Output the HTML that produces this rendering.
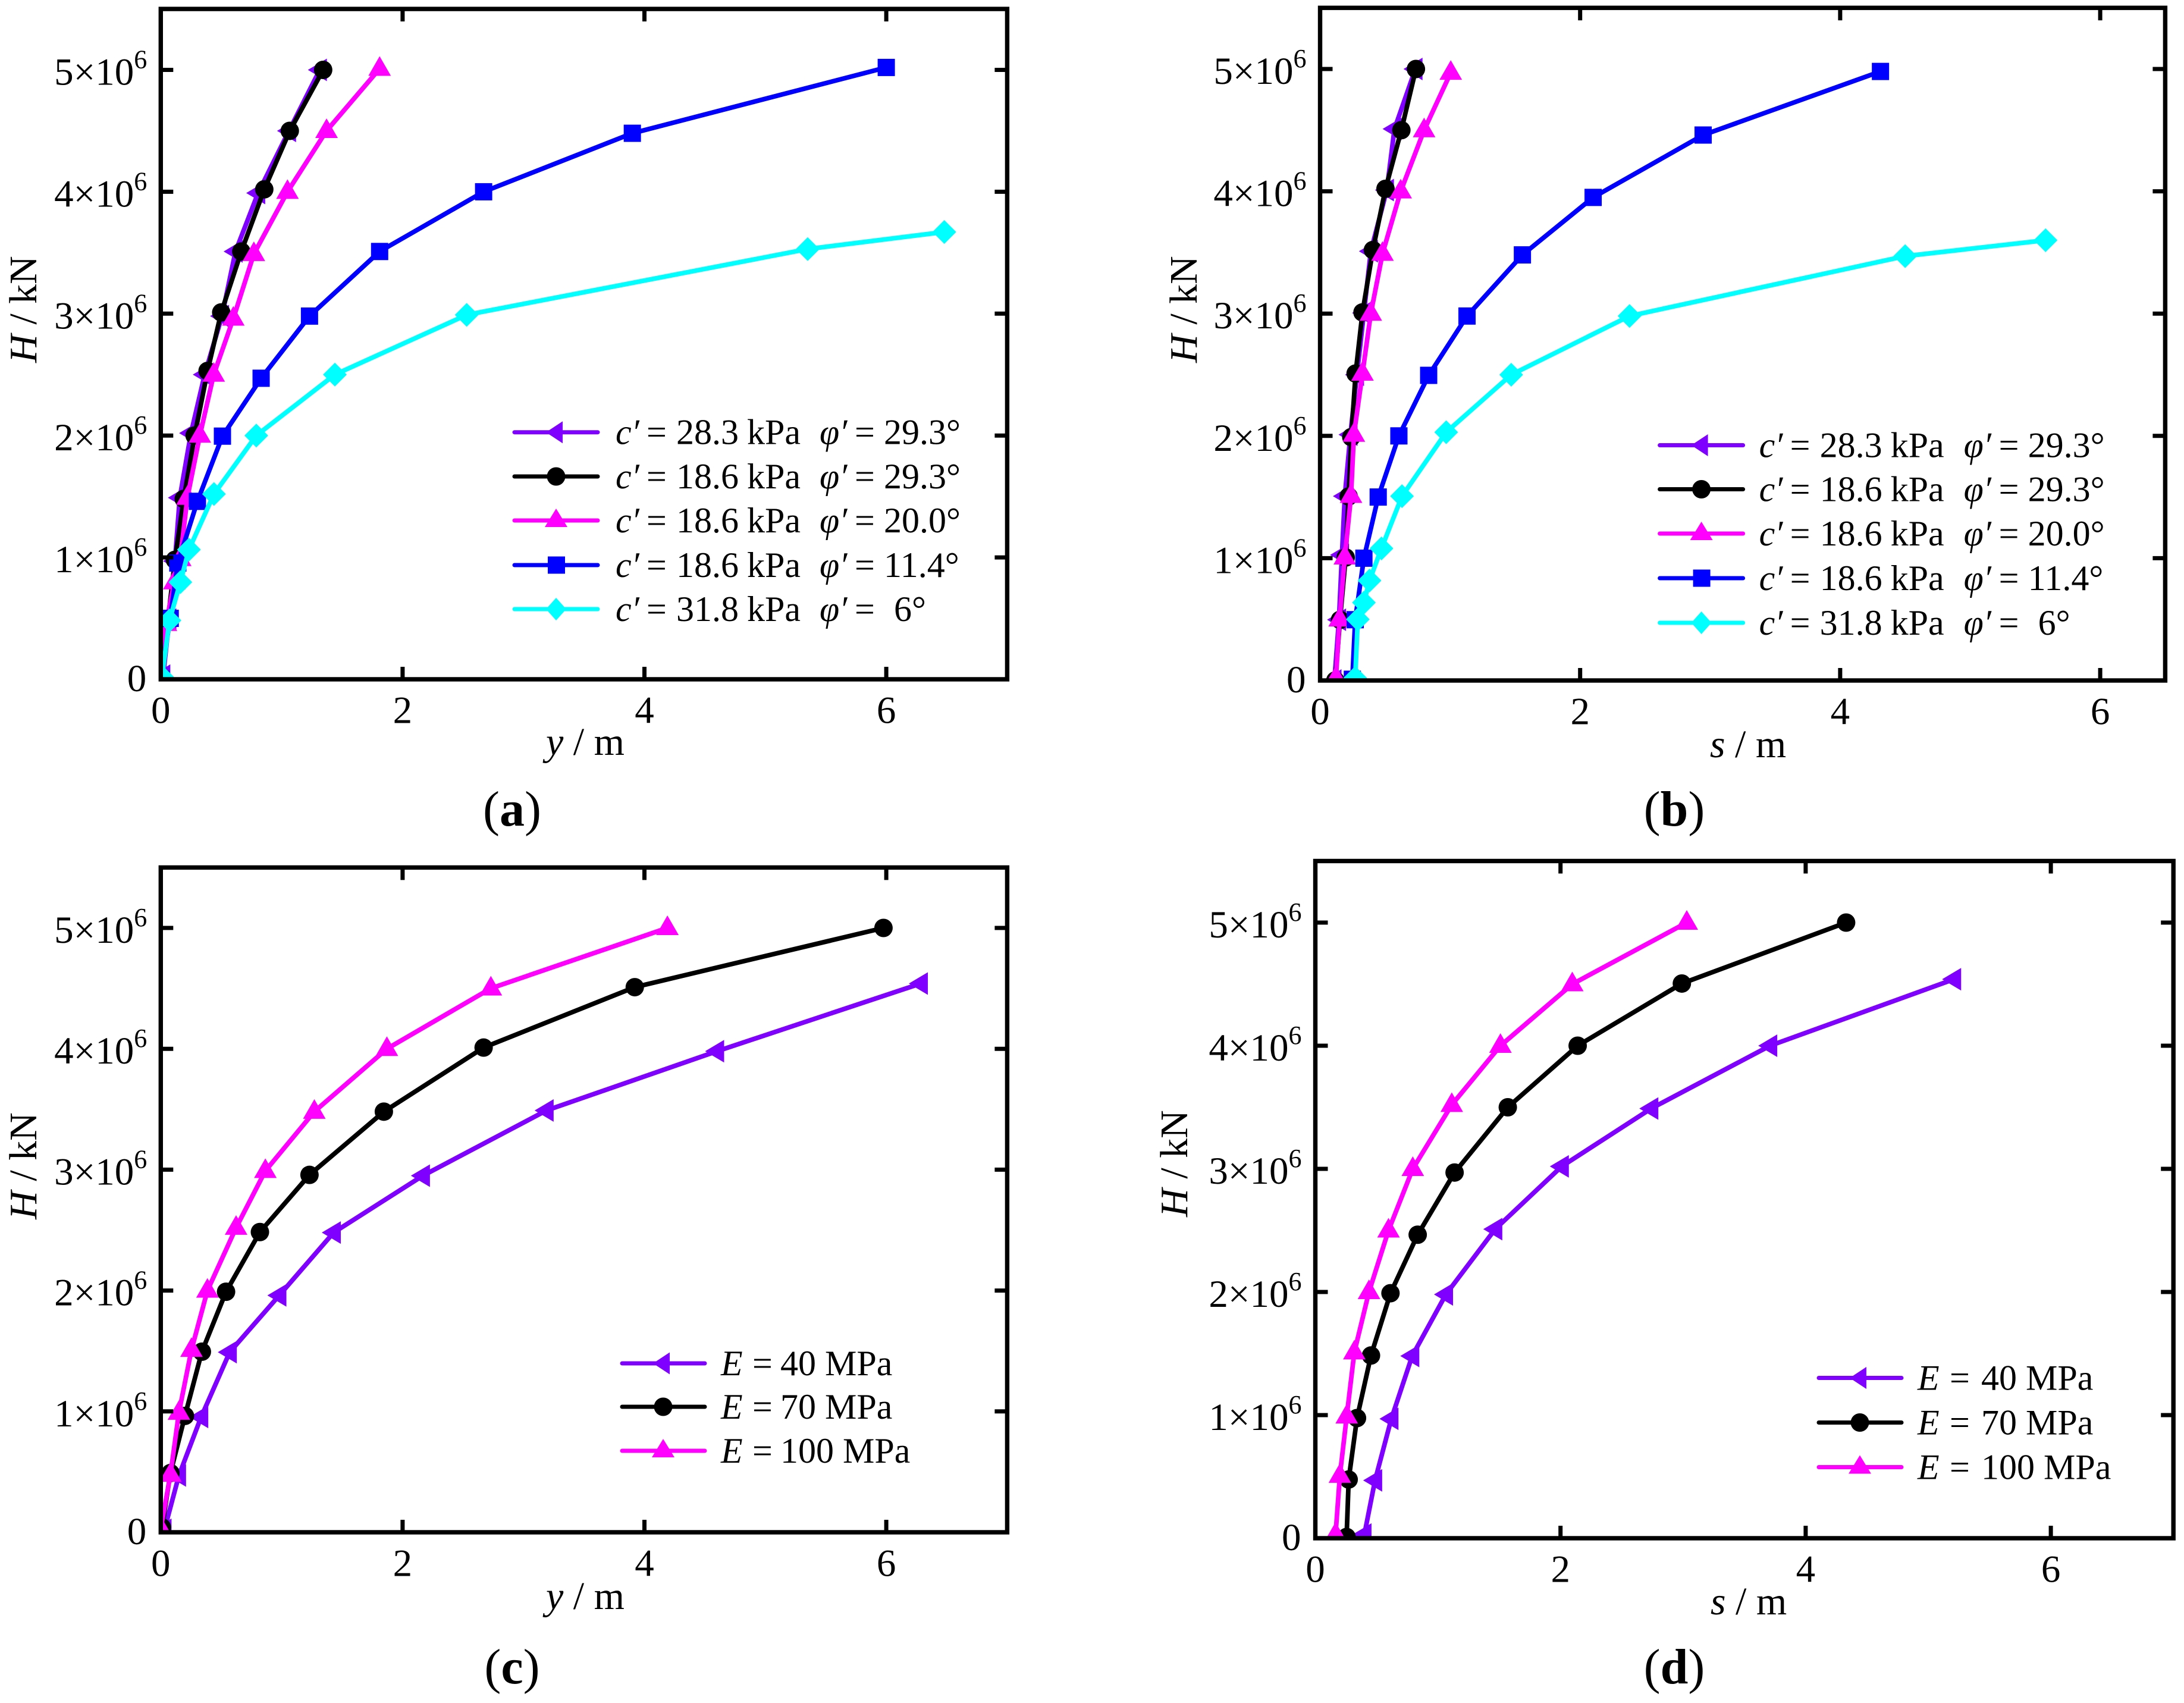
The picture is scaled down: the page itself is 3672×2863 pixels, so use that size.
<!DOCTYPE html>
<html lang="en">
<head>
<meta charset="utf-8">
<title>H versus displacement curves</title>
<style>
html,body{margin:0;padding:0;background:#fff}
svg{display:block}
text{font-family:"Liberation Serif",serif;fill:#000}
.lg{font-size:60px}
.al{font-size:66px}
.cap{font-size:84px}
.i{font-style:italic}
.b{font-weight:bold}
.ll{stroke-width:7;stroke-linecap:round;fill:none}
</style>
</head>
<body>
<svg id="fig" xmlns="http://www.w3.org/2000/svg" width="3672" height="2863" viewBox="0 0 3672 2863">
  <rect width="3672" height="2863" fill="#fff"/>

  <!-- axis titles -->
  <text class="al" x="984" y="1269" text-anchor="middle"><tspan class="i">y</tspan> / m</text>
  <text class="al" transform="translate(61 520) rotate(-90)" text-anchor="middle"><tspan class="i">H</tspan> / kN</text>
  <text class="al" x="2939" y="1273" text-anchor="middle"><tspan class="i">s</tspan> / m</text>
  <text class="al" transform="translate(2012 520) rotate(-90)" text-anchor="middle"><tspan class="i">H</tspan> / kN</text>
  <text class="al" x="984" y="2705" text-anchor="middle"><tspan class="i">y</tspan> / m</text>
  <text class="al" transform="translate(61 1960) rotate(-90)" text-anchor="middle"><tspan class="i">H</tspan> / kN</text>
  <text class="al" x="2940" y="2714" text-anchor="middle"><tspan class="i">s</tspan> / m</text>
  <text class="al" transform="translate(1996 1956) rotate(-90)" text-anchor="middle"><tspan class="i">H</tspan> / kN</text>

  <!-- captions -->
  <text class="cap" x="861" y="1388" text-anchor="middle">(<tspan class="b">a</tspan>)</text>
  <text class="cap" x="2815" y="1388" text-anchor="middle">(<tspan class="b">b</tspan>)</text>
  <text class="cap" x="861" y="2830" text-anchor="middle">(<tspan class="b">c</tspan>)</text>
  <text class="cap" x="2815" y="2830" text-anchor="middle">(<tspan class="b">d</tspan>)</text>

  <g id="plots"></g>

  <!-- legend panel a -->
  <g>
    <g transform="translate(0 726.7)">
      <line class="ll" x1="865" x2="1005" stroke="#7f00ff"/><polygon points="918,0 946,-18.5 946,18.5" fill="#7f00ff"/>
      <text class="lg" y="20"><tspan class="i" x="1035">c′</tspan><tspan x="1087">=</tspan><tspan x="1137">28.3</tspan><tspan x="1256">kPa</tspan><tspan class="i" x="1378">φ′</tspan><tspan x="1437">=</tspan><tspan x="1486">29.3°</tspan></text>
    </g>
    <g transform="translate(0 801)">
      <line class="ll" x1="865" x2="1005" stroke="#000"/><circle cx="935" cy="0" r="15.5" fill="#000"/>
      <text class="lg" y="20"><tspan class="i" x="1035">c′</tspan><tspan x="1087">=</tspan><tspan x="1137">18.6</tspan><tspan x="1256">kPa</tspan><tspan class="i" x="1378">φ′</tspan><tspan x="1437">=</tspan><tspan x="1486">29.3°</tspan></text>
    </g>
    <g transform="translate(0 875)">
      <line class="ll" x1="865" x2="1005" stroke="#f0f"/><polygon points="935,-20 954,11 916,11" fill="#f0f"/>
      <text class="lg" y="20"><tspan class="i" x="1035">c′</tspan><tspan x="1087">=</tspan><tspan x="1137">18.6</tspan><tspan x="1256">kPa</tspan><tspan class="i" x="1378">φ′</tspan><tspan x="1437">=</tspan><tspan x="1486">20.0°</tspan></text>
    </g>
    <g transform="translate(0 950)">
      <line class="ll" x1="865" x2="1005" stroke="#00f"/><rect x="921" y="-14.5" width="29" height="29" fill="#00f"/>
      <text class="lg" y="20"><tspan class="i" x="1035">c′</tspan><tspan x="1087">=</tspan><tspan x="1137">18.6</tspan><tspan x="1256">kPa</tspan><tspan class="i" x="1378">φ′</tspan><tspan x="1437">=</tspan><tspan x="1486">11.4°</tspan></text>
    </g>
    <g transform="translate(0 1024)">
      <line class="ll" x1="865" x2="1005" stroke="#0ff"/><polygon points="935,-19 952,0 935,19 918,0" fill="#0ff"/>
      <text class="lg" y="20"><tspan class="i" x="1035">c′</tspan><tspan x="1087">=</tspan><tspan x="1137">31.8</tspan><tspan x="1256">kPa</tspan><tspan class="i" x="1378">φ′</tspan><tspan x="1437">=</tspan><tspan x="1503">6°</tspan></text>
    </g>
  </g>

  <!-- legend panel b -->
  <g transform="translate(1925.6 0)">
    <g transform="translate(0 748.5)">
      <line class="ll" x1="865" x2="1005" stroke="#7f00ff"/><polygon points="918,0 946,-18.5 946,18.5" fill="#7f00ff"/>
      <text class="lg" y="20"><tspan class="i" x="1032">c′</tspan><tspan x="1084">=</tspan><tspan x="1134">28.3</tspan><tspan x="1253">kPa</tspan><tspan class="i" x="1376">φ′</tspan><tspan x="1435">=</tspan><tspan x="1484">29.3°</tspan></text>
    </g>
    <g transform="translate(0 822.5)">
      <line class="ll" x1="865" x2="1005" stroke="#000"/><circle cx="935" cy="0" r="15.5" fill="#000"/>
      <text class="lg" y="20"><tspan class="i" x="1032">c′</tspan><tspan x="1084">=</tspan><tspan x="1134">18.6</tspan><tspan x="1253">kPa</tspan><tspan class="i" x="1376">φ′</tspan><tspan x="1435">=</tspan><tspan x="1484">29.3°</tspan></text>
    </g>
    <g transform="translate(0 897)">
      <line class="ll" x1="865" x2="1005" stroke="#f0f"/><polygon points="935,-20 954,11 916,11" fill="#f0f"/>
      <text class="lg" y="20"><tspan class="i" x="1032">c′</tspan><tspan x="1084">=</tspan><tspan x="1134">18.6</tspan><tspan x="1253">kPa</tspan><tspan class="i" x="1376">φ′</tspan><tspan x="1435">=</tspan><tspan x="1484">20.0°</tspan></text>
    </g>
    <g transform="translate(0 972)">
      <line class="ll" x1="865" x2="1005" stroke="#00f"/><rect x="921" y="-14.5" width="29" height="29" fill="#00f"/>
      <text class="lg" y="20"><tspan class="i" x="1032">c′</tspan><tspan x="1084">=</tspan><tspan x="1134">18.6</tspan><tspan x="1253">kPa</tspan><tspan class="i" x="1376">φ′</tspan><tspan x="1435">=</tspan><tspan x="1484">11.4°</tspan></text>
    </g>
    <g transform="translate(0 1047)">
      <line class="ll" x1="865" x2="1005" stroke="#0ff"/><polygon points="935,-19 952,0 935,19 918,0" fill="#0ff"/>
      <text class="lg" y="20"><tspan class="i" x="1032">c′</tspan><tspan x="1084">=</tspan><tspan x="1134">31.8</tspan><tspan x="1253">kPa</tspan><tspan class="i" x="1376">φ′</tspan><tspan x="1435">=</tspan><tspan x="1501">6°</tspan></text>
    </g>
  </g>

  <!-- legend panel c -->
  <g>
    <g transform="translate(0 2292)">
      <line class="ll" x1="1046" x2="1185" stroke="#7f00ff"/><polygon points="1098,0 1126,-18.5 1126,18.5" fill="#7f00ff"/>
      <text class="lg" y="20"><tspan class="i" x="1212">E</tspan><tspan x="1265">=</tspan><tspan x="1312">40 MPa</tspan></text>
    </g>
    <g transform="translate(0 2365)">
      <line class="ll" x1="1046" x2="1185" stroke="#000"/><circle cx="1115" cy="0" r="15.5" fill="#000"/>
      <text class="lg" y="20"><tspan class="i" x="1212">E</tspan><tspan x="1265">=</tspan><tspan x="1312">70 MPa</tspan></text>
    </g>
    <g transform="translate(0 2439)">
      <line class="ll" x1="1046" x2="1185" stroke="#f0f"/><polygon points="1115,-20 1134,11 1096,11" fill="#f0f"/>
      <text class="lg" y="20"><tspan class="i" x="1212">E</tspan><tspan x="1265">=</tspan><tspan x="1312">100 MPa</tspan></text>
    </g>
  </g>

  <!-- legend panel d -->
  <g transform="translate(2012 0)">
    <g transform="translate(0 2316.5)">
      <line class="ll" x1="1046" x2="1185" stroke="#7f00ff"/><polygon points="1098,0 1126,-18.5 1126,18.5" fill="#7f00ff"/>
      <text class="lg" y="20"><tspan class="i" x="1212">E</tspan><tspan x="1266">=</tspan><tspan x="1319">40 MPa</tspan></text>
    </g>
    <g transform="translate(0 2391.5)">
      <line class="ll" x1="1046" x2="1185" stroke="#000"/><circle cx="1115" cy="0" r="15.5" fill="#000"/>
      <text class="lg" y="20"><tspan class="i" x="1212">E</tspan><tspan x="1266">=</tspan><tspan x="1319">70 MPa</tspan></text>
    </g>
    <g transform="translate(0 2466.5)">
      <line class="ll" x1="1046" x2="1185" stroke="#f0f"/><polygon points="1115,-20 1134,11 1096,11" fill="#f0f"/>
      <text class="lg" y="20"><tspan class="i" x="1212">E</tspan><tspan x="1266">=</tspan><tspan x="1319">100 MPa</tspan></text>
    </g>
  </g>
</svg>

<script>
// tick values
const xTicks = [0, 2, 4, 6];
const hTicks = [0, 1, 2, 3, 4, 5]; // in units of 10^6 kN

// panel a: y (m) and H (10^6 kN)
const aPurpleX = [0.02, 0.07, 0.117, 0.157, 0.25, 0.363, 0.506, 0.618, 0.805, 1.06, 1.315];
const aPurpleH = [0.03, 0.49, 0.97, 1.49, 2.02, 2.5, 2.98, 3.51, 3.99, 4.5, 5.0];
const aBlackX = [0, 0.06, 0.117, 0.19, 0.28, 0.387, 0.5, 0.666, 0.856, 1.067, 1.343];
const aBlackH = [0, 0.49, 0.98, 1.48, 2.0, 2.53, 3.01, 3.51, 4.02, 4.5, 5.0];
const aMagentaX = [0, 0.043, 0.112, 0.161, 0.22, 0.323, 0.438, 0.6, 0.77, 1.048, 1.371, 1.81];
const aMagentaH = [0, 0.455, 0.797, 0.987, 1.49, 2.0, 2.5, 2.96, 3.49, 4.0, 4.5, 5.01];
const aBlueX = [0, 0.078, 0.141, 0.303, 0.51, 0.83, 1.23, 1.81, 2.67, 3.9, 6.0];
const aBlueH = [0, 0.5, 0.954, 1.46, 1.995, 2.47, 2.98, 3.51, 4.0, 4.48, 5.02];
const aCyanX = [0.01, 0.072, 0.162, 0.233, 0.44, 0.79, 1.44, 2.53, 5.35, 6.48];
const aCyanH = [0.02, 0.483, 0.797, 1.064, 1.52, 2.0, 2.5, 2.99, 3.53, 3.67];

// panel b: s (m) and H (10^6 kN)
const bPurpleX = [0.11, 0.145, 0.168, 0.19, 0.233, 0.283, 0.337, 0.39, 0.513, 0.572, 0.733];
const bPurpleH = [0, 0.497, 1.026, 1.507, 2.01, 2.5, 3.005, 3.51, 4.01, 4.51, 5.0];
const bBlackX = [0.117, 0.153, 0.197, 0.22, 0.24, 0.273, 0.326, 0.406, 0.503, 0.625, 0.737];
const bBlackH = [0, 0.496, 1.006, 1.505, 1.99, 2.51, 3.01, 3.52, 4.02, 4.5, 5.0];
const bMagentaX = [0.122, 0.15, 0.19, 0.238, 0.26, 0.326, 0.39, 0.48, 0.62, 0.8, 1.005];
const bMagentaH = [0.02, 0.5, 1.007, 1.51, 2.01, 2.51, 3.0, 3.49, 4.0, 4.5, 4.97];
const bBlueX = [0.248, 0.27, 0.337, 0.447, 0.606, 0.835, 1.13, 1.556, 2.1, 2.946, 4.31];
const bBlueH = [0.01, 0.497, 1.0, 1.5, 2.0, 2.495, 2.98, 3.48, 3.95, 4.46, 4.98];
const bCyanX = [0.27, 0.29, 0.337, 0.38, 0.472, 0.63, 0.97, 1.47, 2.38, 4.5, 5.58];
const bCyanH = [0.02, 0.5, 0.637, 0.817, 1.08, 1.507, 2.03, 2.5, 2.98, 3.47, 3.6];

// panel c: y (m) and H (10^6 kN)
const cPurpleX = [0.03, 0.15, 0.334, 0.57, 0.98, 1.43, 2.167, 3.19, 4.6, 6.285];
const cPurpleH = [0.02, 0.47, 0.954, 1.49, 1.96, 2.48, 2.95, 3.49, 3.98, 4.54];
const cBlackX = [0.01, 0.08, 0.2, 0.34, 0.54, 0.82, 1.23, 1.845, 2.67, 3.92, 5.977];
const cBlackH = [0.04, 0.49, 0.963, 1.494, 1.99, 2.484, 2.957, 3.48, 4.01, 4.51, 5.0];
const cMagentaX = [0, 0.08, 0.15, 0.254, 0.386, 0.623, 0.865, 1.27, 1.87, 2.73, 4.19];
const cMagentaH = [0.03, 0.477, 0.99, 1.51, 2.0, 2.52, 2.99, 3.48, 4.0, 4.5, 5.0];

// panel d: s (m) and H (10^6 kN)
const dPurpleX = [0.4, 0.487, 0.62, 0.79, 1.065, 1.467, 2.01, 2.74, 3.71, 5.21];
const dPurpleH = [0.03, 0.47, 0.97, 1.48, 1.98, 2.51, 3.02, 3.49, 4.0, 4.54];
const dBlackX = [0.255, 0.272, 0.34, 0.454, 0.613, 0.835, 1.136, 1.57, 2.14, 2.99, 4.33];
const dBlackH = [0.01, 0.477, 0.976, 1.484, 1.99, 2.465, 2.97, 3.5, 4.0, 4.505, 5.0];
const dMagentaX = [0.165, 0.2, 0.256, 0.318, 0.4375, 0.597, 0.795, 1.113, 1.51, 2.096, 3.03];
const dMagentaH = [0.03, 0.508, 0.99, 1.51, 2.0, 2.5, 3.0, 3.52, 4.0, 4.5, 5.0];

const NS = 'http://www.w3.org/2000/svg';
const plots = document.getElementById('plots');

function el(tag, attrs, parent) {
  const e = document.createElementNS(NS, tag);
  for (const k in attrs) e.setAttribute(k, attrs[k]);
  if (parent) parent.appendChild(e);
  return e;
}

const STYLE = {
  purple: {color: '#7f00ff', shape: 'left'},
  black: {color: '#000000', shape: 'circle'},
  magenta: {color: '#ff00ff', shape: 'up'},
  blue: {color: '#0000ff', shape: 'square'},
  cyan: {color: '#00ffff', shape: 'diamond'}
};

function marker(shape, cx, cy, color, parent) {
  if (shape === 'circle') return el('circle', {cx: cx, cy: cy, r: 15.5, fill: color}, parent);
  if (shape === 'square') return el('rect', {x: cx - 14.5, y: cy - 14.5, width: 29, height: 29, fill: color}, parent);
  let pts;
  if (shape === 'left') pts = [[cx - 20, cy], [cx + 12, cy - 19], [cx + 12, cy + 19]];
  if (shape === 'up') pts = [[cx, cy - 21], [cx + 19, cy + 12], [cx - 19, cy + 12]];
  if (shape === 'diamond') pts = [[cx, cy - 20], [cx + 20, cy], [cx, cy + 20], [cx - 20, cy]];
  return el('polygon', {points: pts.map(p => p.join(',')).join(' '), fill: color}, parent);
}

function drawPanel(p) {
  const sx = v => p.x0 + v * p.ux;
  const sy = v => p.y0 - v * p.uh;
  const left = sx(0), right = sx(p.xMax), bottom = sy(0), top = sy(5.5);

  const g = el('g', {}, plots);
  
  

  const clip = el('clipPath', {id: 'clip-' + p.id}, g);
  el('rect', {x: left, y: top, width: right - left, height: bottom - top}, clip);

  const data = el('g', {'clip-path': 'url(#clip-' + p.id + ')'}, g);
  
  

  p.series.forEach(function (s) {
    const st = STYLE[s.key];
    const sg = el('g', {}, data);
    
    
    const line = el('polyline', {
      points: s.x.map((v, i) => sx(v) + ',' + sy(s.h[i])).join(' '),
      fill: 'none', stroke: st.color, 'stroke-width': 7.8, 'stroke-linejoin': 'round'
    }, sg);
    
    
    s.x.forEach(function (v, i) {
      const m = marker(st.shape, sx(v), sy(s.h[i]), st.color, sg);
      
      
    });
  });

  const axes = el('g', {stroke: '#000', fill: 'none'}, g);
  
  

  const tickLen = 21;
  xTicks.forEach(function (t) {
    if (t === 0) return;
    const x = sx(t);
    const t1 = el('line', {x1: x, x2: x, y1: bottom, y2: bottom - tickLen, 'stroke-width': 7}, axes);
    
    
    const t2 = el('line', {x1: x, x2: x, y1: top, y2: top + tickLen, 'stroke-width': 7}, axes);
    
    
  });
  hTicks.forEach(function (t) {
    if (t === 0) return;
    const y = sy(t);
    const t1 = el('line', {x1: left, x2: left + tickLen, y1: y, y2: y, 'stroke-width': 7}, axes);
    
    
    const t2 = el('line', {x1: right, x2: right - tickLen, y1: y, y2: y, 'stroke-width': 7}, axes);
    
    
  });
  const frame = el('rect', {x: left, y: top, width: right - left, height: bottom - top, 'stroke-width': 7.4}, axes);
  
  

  xTicks.forEach(function (t) {
    const lab = el('text', {x: sx(t), y: bottom + 73.5, 'text-anchor': 'middle', 'font-size': 65}, g);
    lab.textContent = String(t);
    
    
  });
  hTicks.forEach(function (t) {
    const lab = el('text', {'text-anchor': 'end', 'font-size': 65}, g);
    
    
    if (t === 0) {
      lab.setAttribute('x', left - 24);
      lab.setAttribute('y', bottom + 20);
      lab.textContent = '0';
    } else {
      lab.setAttribute('x', left - 23);
      lab.setAttribute('y', sy(t) + 25);
      const a = el('tspan', {}, lab);
      a.textContent = t + '×10';
      const b = el('tspan', {'font-size': 44, dy: -28}, lab);
      b.textContent = '6';
    }
  });
}

const panels = [
  {id: 'a', x0: 270.3, ux: 203.3, y0: 1142, uh: 204.9, xMax: 7, series: [
    {key: 'purple', x: aPurpleX, h: aPurpleH},
    {key: 'black', x: aBlackX, h: aBlackH},
    {key: 'magenta', x: aMagentaX, h: aMagentaH},
    {key: 'blue', x: aBlueX, h: aBlueH},
    {key: 'cyan', x: aCyanX, h: aCyanH}
  ]},
  {id: 'b', x0: 2219.5, ux: 218.6, y0: 1144, uh: 205.6, xMax: 6.5, series: [
    {key: 'purple', x: bPurpleX, h: bPurpleH},
    {key: 'black', x: bBlackX, h: bBlackH},
    {key: 'magenta', x: bMagentaX, h: bMagentaH},
    {key: 'blue', x: bBlueX, h: bBlueH},
    {key: 'cyan', x: bCyanX, h: bCyanH}
  ]},
  {id: 'c', x0: 270.3, ux: 203.3, y0: 2576, uh: 203.2, xMax: 7, series: [
    {key: 'purple', x: cPurpleX, h: cPurpleH},
    {key: 'black', x: cBlackX, h: cBlackH},
    {key: 'magenta', x: cMagentaX, h: cMagentaH}
  ]},
  {id: 'd', x0: 2211.5, ux: 206.1, y0: 2586, uh: 207, xMax: 7, series: [
    {key: 'purple', x: dPurpleX, h: dPurpleH},
    {key: 'black', x: dBlackX, h: dBlackH},
    {key: 'magenta', x: dMagentaX, h: dMagentaH}
  ]}
];
panels.forEach(drawPanel);
</script>
</body>
</html>
